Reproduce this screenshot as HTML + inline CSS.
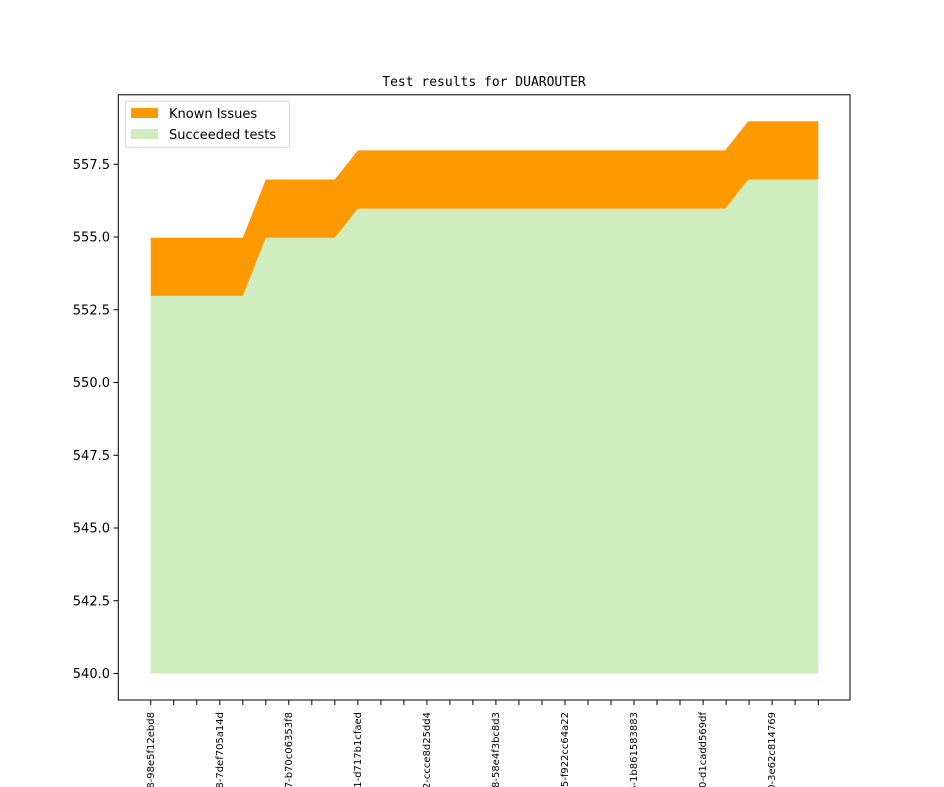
<!DOCTYPE html>
<html><head><meta charset="utf-8"><style>html,body{margin:0;background:#fff;width:944px;height:787px;overflow:hidden}svg{display:block}</style></head>
<body>
<svg width="944" height="787" viewBox="0 0 944 787" xmlns="http://www.w3.org/2000/svg" font-family="DejaVu Sans, Liberation Sans, sans-serif" overflow="hidden">
<rect width="944" height="787" fill="#fff"/>
<text x="484" y="86" font-family="DejaVu Sans Mono, Liberation Mono, monospace" font-size="13" text-anchor="middle">Test results for DUAROUTER</text>
<polygon fill="#cfedbf" points="150.7,673.5 150.7,295.9 242.8,295.9 265.8,237.7 334.8,237.7 357.8,208.6 725.2,208.6 748.2,179.5 818.3,179.5 818.3,673.5"/>
<polygon fill="#ff9900" points="150.7,295.9 150.7,237.7 242.8,237.7 265.8,179.5 334.8,179.5 357.8,150.4 725.2,150.4 748.2,121.3 818.3,121.3 818.3,179.5 748.2,179.5 725.2,208.6 357.8,208.6 334.8,237.7 265.8,237.7 242.8,295.9"/>
<rect x="118.3" y="94.8" width="731.7" height="605.2" fill="none" stroke="#000" stroke-width="1"/>
<g font-size="13" text-anchor="end" fill="#000">
<line x1="113.5" x2="118.3" y1="673.5" y2="673.5" stroke="#000"/><text x="110" y="678">540.0</text>
<line x1="113.5" x2="118.3" y1="600.75" y2="600.75" stroke="#000"/><text x="110" y="605.25">542.5</text>
<line x1="113.5" x2="118.3" y1="528" y2="528" stroke="#000"/><text x="110" y="532.5">545.0</text>
<line x1="113.5" x2="118.3" y1="455.25" y2="455.25" stroke="#000"/><text x="110" y="459.75">547.5</text>
<line x1="113.5" x2="118.3" y1="382.5" y2="382.5" stroke="#000"/><text x="110" y="387">550.0</text>
<line x1="113.5" x2="118.3" y1="309.75" y2="309.75" stroke="#000"/><text x="110" y="314.25">552.5</text>
<line x1="113.5" x2="118.3" y1="237" y2="237" stroke="#000"/><text x="110" y="241.5">555.0</text>
<line x1="113.5" x2="118.3" y1="164.25" y2="164.25" stroke="#000"/><text x="110" y="168.75">557.5</text>
</g>
<g stroke="#000" stroke-width="1">
<path d="M150.7,700v5M173.7,700v5M196.7,700v5M219.8,700v5M242.8,700v5M265.8,700v5M288.8,700v5M311.8,700v5M334.8,700v5M357.8,700v5M380.9,700v5M403.9,700v5M426.9,700v5M449.9,700v5M472.9,700v5M495.9,700v5M518.9,700v5M542,700v5M565,700v5M588,700v5M611,700v5M634,700v5M657,700v5M680,700v5M703.1,700v5M726.1,700v5M749.1,700v5M772.1,700v5M795.1,700v5M818.3,700v5"/>
</g>
<g font-size="10" text-anchor="end" fill="#000">
<text transform="translate(154,712) rotate(-90)">8-98e5f12ebd8</text>
<text transform="translate(223,712) rotate(-90)">8-7def705a14d</text>
<text transform="translate(292,712) rotate(-90)">7-b70c06353f8</text>
<text transform="translate(361,712) rotate(-90)">1-d717b1cfaed</text>
<text transform="translate(430,712) rotate(-90)">2-ccce8d25dd4</text>
<text transform="translate(499,712) rotate(-90)">8-58e4f3bc8d3</text>
<text transform="translate(568,712) rotate(-90)">5-f922cc64a22</text>
<text transform="translate(637,712) rotate(-90)">6-1b861583883</text>
<text transform="translate(706,712) rotate(-90)">0-d1cadd569df</text>
<text transform="translate(775,712) rotate(-90)">0-3e62c814769</text>
</g>
<rect x="125.3" y="101.3" width="164.2" height="46" rx="2" fill="#fff" fill-opacity="0.8" stroke="#d6d6d6"/>
<rect x="131" y="108" width="27" height="10" fill="#ff9900"/>
<rect x="131" y="129" width="27" height="10" fill="#cfedbf"/>
<text x="169" y="118" font-size="13">Known Issues</text>
<text x="169" y="139" font-size="13">Succeeded tests</text>
</svg>
</body></html>
